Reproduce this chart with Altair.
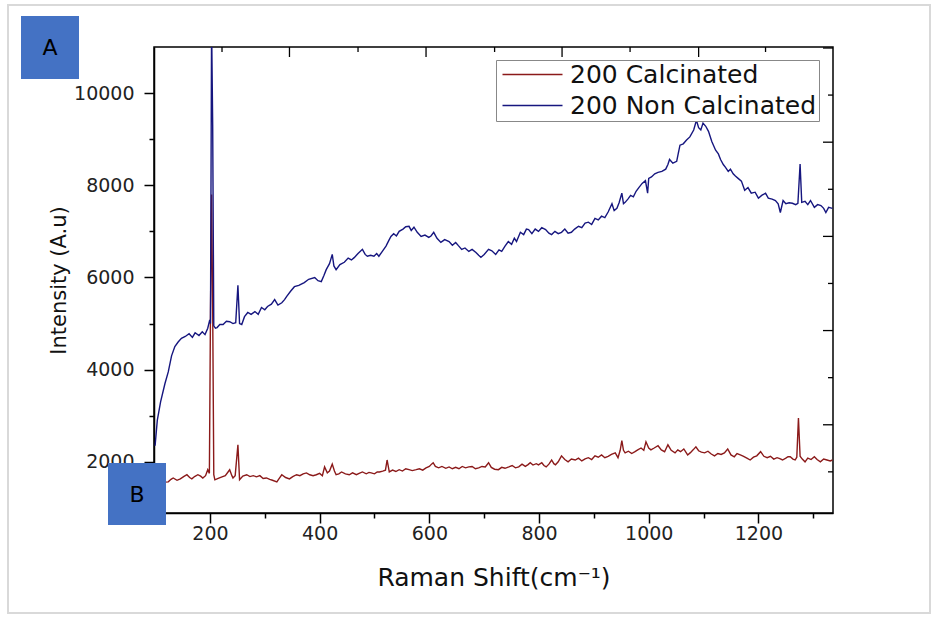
import altair as alt
import pandas as pd

# ---- data ----
blue_x = [100,104,110,118,124,130,136,142,148,155,162,168,173,180,186,191,196,199,201,203,205,207,210,213,218,224,230,236,242,247,251,254,258,263,269,275,282,288,294,300,305,312,318,324,331,336,340,347,354,362,372,380,391,397,403,408,412,418,423,426,430,437,445,452,458,463,470,478,483,487,493,499,504,508,514,521,526,530,535,540,545,552,557,563,567,572,578,585,592,599,603,608,614,621,628,636,642,648,653,659,665,672,678,685,690,694,700,708,714,721,727,732,738,744,750,755,759,766,772,777,781,787,793,799,805,812,818,823,829,835,841,847,853,859,865,872,878,884,890,896,902,908,914,920,926,933,937,942,946,951,954,957,962,967,972,977,982,988,994,998,1000,1005,1011,1017,1024,1031,1035,1038,1044,1051,1054,1057,1063,1069,1075,1082,1087,1091,1095,1099,1104,1109,1115,1122,1127,1131,1136,1140,1145,1149,1154,1158,1163,1169,1175,1181,1187,1194,1200,1206,1213,1218,1225,1231,1236,1240,1245,1250,1256,1262,1268,1272,1276,1279,1285,1290,1295,1302,1308,1314,1319,1323,1328,1335]
blue_y = [2350,2900,3300,3700,3950,4300,4500,4600,4680,4720,4780,4700,4800,4740,4820,4760,4900,5050,5000,11500,9300,4950,4900,4913,4980,4980,5050,5040,5000,5020,5830,5000,4980,5150,5240,5200,5260,5200,5350,5300,5370,5420,5520,5400,5450,5520,5590,5700,5800,5830,5890,5960,6000,5930,5910,6050,6170,6300,6500,6250,6170,6280,6330,6420,6380,6430,6520,6610,6500,6460,6480,6460,6520,6460,6560,6680,6800,6890,6950,6900,7000,7050,7100,7110,7020,7090,6980,6890,6920,6870,6900,6980,6850,6760,6820,6780,6700,6760,6690,6610,6640,6565,6610,6540,6480,6435,6500,6610,6580,6500,6600,6565,6680,6780,6720,6850,6780,6980,6930,7050,7040,6950,7050,7000,7080,7040,6960,6930,7000,6950,6980,7050,6960,6980,7050,7110,7080,7180,7200,7150,7280,7250,7330,7300,7420,7600,7450,7500,7620,7830,7600,7630,7700,7780,7750,7870,7950,8040,8100,7830,8150,8180,8250,8280,8300,8350,8450,8560,8480,8520,8700,8870,8900,8980,9050,9200,9410,9250,9200,9350,9280,9170,8950,8760,8680,8560,8450,8390,8300,8350,8250,8200,8150,8090,7890,7950,7830,7850,7720,7780,7830,7720,7700,7670,7600,7410,7670,7600,7620,7610,7580,7610,8460,7630,7650,7580,7670,7520,7580,7560,7500,7410,7520,7500]

red_x = [100,106,112,118,124,129,133,140,146,152,158,163,167,172,178,183,187,192,196,199,201,203,205,207,209,215,222,228,233,236,240,242,246,251,254,260,267,273,279,285,291,297,303,309,314,322,327,331,338,345,351,358,364,370,376,382,388,394,400,405,409,414,418,423,427,430,435,440,447,454,460,467,472,478,485,490,494,500,505,509,515,520,523,527,533,539,545,551,557,563,569,576,582,588,594,600,604,607,611,617,623,630,636,642,648,654,660,666,672,678,684,690,696,702,708,713,719,726,732,738,745,751,757,763,769,775,780,784,789,795,799,805,809,813,818,823,827,830,835,841,847,853,859,866,872,878,884,890,896,902,908,914,920,926,932,939,944,948,951,954,957,963,969,975,980,986,991,995,1000,1004,1010,1017,1023,1029,1035,1041,1048,1053,1058,1064,1071,1076,1081,1086,1091,1096,1102,1108,1114,1120,1126,1132,1138,1144,1150,1156,1161,1167,1173,1179,1185,1191,1197,1204,1210,1216,1222,1228,1234,1239,1244,1250,1254,1258,1263,1267,1270,1273,1276,1280,1285,1290,1296,1302,1307,1313,1319,1325,1331,1335]
red_y = [1620,1580,1600,1560,1565,1620,1650,1600,1630,1680,1720,1660,1630,1680,1720,1690,1650,1700,1830,1750,5300,7800,5300,1720,1610,1640,1675,1700,1780,1830,1700,1650,1700,2370,1610,1690,1720,1680,1700,1675,1700,1640,1650,1620,1600,1565,1650,1720,1660,1630,1680,1720,1700,1740,1760,1720,1700,1720,1750,1700,1890,1760,1800,1950,1800,1720,1740,1780,1740,1720,1760,1720,1750,1780,1740,1770,1760,1740,1780,1780,1800,1820,2040,1780,1820,1790,1830,1800,1850,1830,1810,1830,1850,1820,1870,1900,1950,1980,1900,1870,1900,1860,1890,1850,1880,1850,1900,1870,1890,1900,1850,1870,1900,1890,1980,1880,1840,1830,1880,1860,1890,1920,1870,1890,1950,1900,1940,1980,1930,1960,1935,1980,1920,1890,1950,2040,1960,1935,2000,2130,2050,2000,2060,2040,2080,2020,2065,2090,2050,2130,2100,2150,2090,2120,2160,2195,2090,2250,2460,2250,2195,2230,2180,2220,2260,2300,2250,2435,2300,2260,2300,2350,2260,2220,2370,2250,2195,2260,2220,2280,2150,2200,2260,2325,2240,2210,2195,2230,2170,2130,2180,2160,2195,2280,2150,2110,2180,2150,2120,2080,2040,2100,2130,2220,2120,2090,2120,2060,2090,2070,2040,2080,2110,2110,2060,2040,2100,2950,2120,2060,2000,2080,2050,2110,2050,2000,2060,2040,2020,2040]

series_names = ["200 Calcinated", "200 Non Calcinated"]
series_colors = ["#8B1A1A", "#16167F"]

x_ticks = list(range(100, 1400, 100))
y_ticks = list(range(1000, 11000, 1000))
top_tick_vals = [222, 345, 470, 594, 719, 842, 966, 1091, 1213]
top_tick_len = [5, 10, 5, 10, 5, 10, 5, 10, 5]
right_tick_vals = [10978, 9957, 8935, 7913, 6891, 5870, 4848, 3826, 2804, 1783]
right_tick_len = [10, 5, 10, 5, 10, 5, 10, 5, 10, 5]

W, H = 679, 466
XDOM = [98, 1336]
YDOM = [890, 11000]
FONT = "DejaVu Sans"

df = pd.concat([
    pd.DataFrame({"x": red_x, "y": red_y, "series": series_names[0]}),
    pd.DataFrame({"x": blue_x, "y": blue_y, "series": series_names[1]}),
])

xscale = alt.Scale(domain=XDOM, nice=False, zero=False)
yscale = alt.Scale(domain=YDOM, nice=False, zero=False)

lines = alt.Chart(df).mark_line(strokeWidth=1.4, clip=True).encode(
    x=alt.X("x:Q", scale=xscale,
            axis=alt.Axis(values=x_ticks, format="d", title="Raman Shift(cm⁻¹)",
                          labelExpr="datum.value % 200 === 0 ? datum.label : ''",
                          tickSize={"condition": {"test": "datum.value % 200 === 0", "value": 10}, "value": 5},
                          grid=False, labelPadding=1, titlePadding=22, titleFontSize=25)),
    y=alt.Y("y:Q", scale=yscale,
            axis=alt.Axis(values=y_ticks, format="d", title="Intensity (A.u)",
                          labelExpr="datum.value % 2000 === 0 ? datum.label : ''",
                          tickSize={"condition": {"test": "datum.value % 2000 === 0", "value": 10}, "value": 5},
                          grid=False, labelPadding=10, titlePadding=4, titleFontSize=21)),
    color=alt.Color("series:N", scale=alt.Scale(domain=series_names, range=series_colors),
                    title=None,
                    legend=alt.Legend(orient="none", legendX=342, legendY=13,
                                      symbolType="M-6,0L6,0", symbolSize=100,
                                      symbolOffset=22, symbolStrokeWidth=1.5,
                                      labelFontSize=25, labelFont=FONT, labelColor="#111",
                                      labelLimit=500, labelOffset=25,
                                      strokeColor="#888", fillColor="white",
                                      padding=2, rowPadding=5)),
    order=alt.Order("x:Q"),
)

def rules_x(vals, length):
    return alt.Chart(pd.DataFrame({"v": vals})).mark_rule(color="black", strokeWidth=1.3).encode(
        x=alt.X("v:Q", scale=xscale), y=alt.value(0), y2=alt.value(length))

def rules_y(vals, length):
    return alt.Chart(pd.DataFrame({"v": vals})).mark_rule(color="black", strokeWidth=1.3).encode(
        y=alt.Y("v:Q", scale=yscale), x=alt.value(W - length), x2=alt.value(W))

top_short = rules_x([v for v, l in zip(top_tick_vals, top_tick_len) if l == 5], 5)
top_long = rules_x([v for v, l in zip(top_tick_vals, top_tick_len) if l == 10], 10)
right_short = rules_y([v for v, l in zip(right_tick_vals, right_tick_len) if l == 5], 5)
right_long = rules_y([v for v, l in zip(right_tick_vals, right_tick_len) if l == 10], 10)

# decorative panel labels A and B and outer frame
one = pd.DataFrame({"a": [0]})
outer = alt.Chart(one).mark_rect(fill="white", fillOpacity=0, stroke="#d9d9d9", strokeWidth=2).encode(
    x=alt.value(-146), x2=alt.value(776), y=alt.value(-42), y2=alt.value(566))
box_a = alt.Chart(one).mark_rect(color="#4472C4").encode(
    x=alt.value(-133), x2=alt.value(-75), y=alt.value(-31), y2=alt.value(32))
box_b = alt.Chart(one).mark_rect(color="#4472C4").encode(
    x=alt.value(-46), x2=alt.value(12), y=alt.value(416), y2=alt.value(478))
txt_a = alt.Chart(pd.DataFrame({"t": ["A"]})).mark_text(
    font=FONT, fontSize=22, color="black", baseline="middle", align="center").encode(
    text="t:N", x=alt.value(-104), y=alt.value(1))
txt_b = alt.Chart(pd.DataFrame({"t": ["B"]})).mark_text(
    font=FONT, fontSize=22, color="black", baseline="middle", align="center").encode(
    text="t:N", x=alt.value(-17), y=alt.value(448))

chart = alt.layer(
    outer, lines, top_short, top_long, right_short, right_long, box_a, box_b, txt_a, txt_b
).properties(
    width=W, height=H,
    autosize=alt.AutoSizeParams(type="none"),
    padding={"left": 154, "top": 47, "right": 105, "bottom": 107},
    background="white",
).configure_view(
    stroke="black", strokeWidth=1.5
).configure_axis(
    domainColor="black", domainWidth=1.5, tickColor="black", tickWidth=1.5,
    labelFont=FONT, labelFontSize=19, labelColor="#222",
    titleFont=FONT, titleFontWeight="normal", titleColor="#111",
)

chart.save("out.html", embed_options={"renderer": "svg", "actions": False})
